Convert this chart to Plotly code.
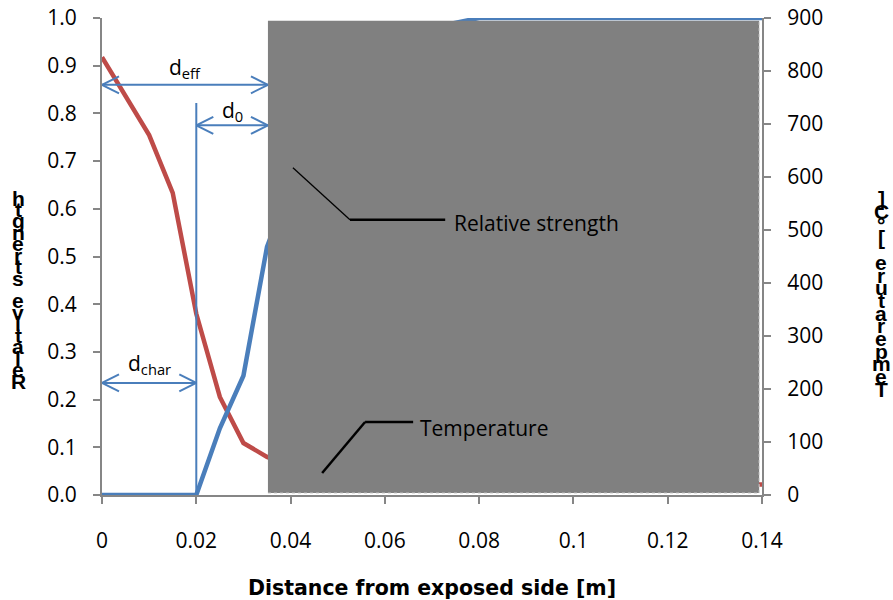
import plotly.graph_objects as go

# Section profile data
distance_m = [0, 0.005, 0.01, 0.015, 0.02, 0.025, 0.03, 0.035, 0.04, 0.05,
              0.06, 0.07, 0.08, 0.09, 0.10, 0.11, 0.12, 0.13, 0.14]
temperature_c = [826, 752, 679, 570, 342, 185, 98, 72, 55, 38,
                 28, 23, 21, 20, 20, 20, 20, 20, 20]
relative_strength = [0, 0, 0, 0, 0, 0.14, 0.25, 0.52, 0.65, 0.82,
                     0.92, 0.98, 1.0, 1.0, 1.0, 1.0, 1.0, 1.0, 1.0]

x_ticks = [0, 0.02, 0.04, 0.06, 0.08, 0.10, 0.12, 0.14]
x_tick_labels = ["0", "0.02", "0.04", "0.06", "0.08", "0.1", "0.12", "0.14"]
strength_ticks = [0, 0.1, 0.2, 0.3, 0.4, 0.5, 0.6, 0.7, 0.8, 0.9, 1.0]
strength_tick_labels = ["0.0", "0.1", "0.2", "0.3", "0.4", "0.5", "0.6", "0.7", "0.8", "0.9", "1.0"]
temp_ticks = [0, 100, 200, 300, 400, 500, 600, 700, 800, 900]
temp_tick_labels = ["0", "100", "200", "300", "400", "500", "600", "700", "800", "900"]

# Layer depths [m]
d_char = 0.02     # charring depth
d_eff = 0.0352    # effective depth (char + zero-strength layer)

BLUE = "#4a7ebb"
RED = "#be4b48"
AXIS = "#868686"
W, H = 893, 600
ML, MR, MT, MB = 102, 131, 18, 105
PW, PH = W - ML - MR, H - MT - MB

fig = go.Figure()
fig.add_trace(go.Scatter(x=distance_m, y=temperature_c, mode="lines",
                         line=dict(color=RED, width=4.5), yaxis="y",
                         name="Temperature", showlegend=False))
fig.add_trace(go.Scatter(x=distance_m, y=relative_strength, mode="lines",
                         line=dict(color=BLUE, width=4.5), yaxis="y2",
                         name="Relative strength", showlegend=False))

tick_font = dict(family="Open Sans", size=21, color="#000000")
axis_style = dict(showline=True, linecolor=AXIS, linewidth=2, ticks="outside",
                  ticklen=7, tickwidth=2, tickcolor=AXIS, showgrid=False,
                  zeroline=False, tickfont=tick_font, ticklabelstandoff=12,
                  automargin=False)

shapes = []


def seg(x0, y0, x1, y1, color=BLUE, width=2, dash=None):
    line = dict(color=color, width=width)
    if dash:
        line["dash"] = dash
    shapes.append(dict(type="line", xref="x", yref="y2", x0=x0, y0=y0, x1=x1, y1=y1,
                       line=line, layer="above"))


def chevron(x, y, direction):
    # open arrow head; direction -1 points left, +1 points right
    for dy in (-8.5, 8.5):
        shapes.append(dict(type="line", xref="x", yref="y2",
                           xsizemode="pixel", xanchor=x, x0=0, x1=-direction * 17,
                           ysizemode="pixel", yanchor=y, y0=0, y1=dy,
                           line=dict(color=BLUE, width=2), layer="above"))


# remaining effective cross-section
shapes.append(dict(type="rect", xref="x", yref="y2", x0=d_eff, x1=0.1394, y0=0.004, y1=0.994,
                   fillcolor="#808080", line=dict(width=0), layer="above"))
seg(d_eff, 0.004, 0.1394, 0.004, color="#d0d0d0", width=1, dash="dot")
seg(0.1394, 0.004, 0.1394, 0.994, color="#d0d0d0", width=1, dash="dot")

# dimension arrows
y_eff, y_0, y_char = 0.86, 0.775, 0.235
seg(0, y_eff, d_eff, y_eff)
chevron(0, y_eff, -1)
chevron(d_eff, y_eff, 1)
seg(d_char, 0, d_char, 0.822)
seg(d_char, y_0, d_eff, y_0)
chevron(d_char, y_0, -1)
chevron(d_eff, y_0, 1)
seg(0, y_char, d_char, y_char)
chevron(0, y_char, -1)
chevron(d_char, y_char, 1)

# callout leaders
seg(0.0405, 0.686, 0.0526, 0.577, color="#000000", width=1.3)
seg(0.0526, 0.577, 0.0728, 0.577, color="#000000", width=2.5)
seg(0.0467, 0.046, 0.0558, 0.153, color="#000000", width=2.5)
seg(0.0558, 0.153, 0.0660, 0.153, color="#000000", width=2.5)

label_font = dict(family="Open Sans", size=21, color="#000000")
annotations = [
    dict(x=d_eff / 2, y=0.895, xref="x", yref="y2", text="d<sub>eff</sub>",
         showarrow=False, font=label_font),
    dict(x=(d_char + d_eff) / 2, y=0.805, xref="x", yref="y2", text="d<sub>0</sub>",
         showarrow=False, font=label_font),
    dict(x=d_char / 2, y=0.275, xref="x", yref="y2", text="d<sub>char</sub>",
         showarrow=False, font=label_font),
    dict(x=0.0742, y=0.571, xref="x", yref="y2", text="Relative strength",
         showarrow=False, xanchor="left", font=label_font),
    dict(x=0.0670, y=0.141, xref="x", yref="y2", text="Temperature",
         showarrow=False, xanchor="left", font=label_font),
]

# stacked axis titles (characters upright, read bottom to top)
title_font = dict(family="Liberation Sans", size=21, color="#000000")


def stacked_title(text, px_x, top_px, bottom_px):
    chars = list(reversed(text))
    step = (bottom_px - top_px) / (len(chars) - 1)
    for i, ch in enumerate(chars):
        if ch == " ":
            continue
        py = top_px + i * step
        annotations.append(dict(x=(px_x - ML) / PW, y=(H - MB - py) / PH,
                                xref="paper", yref="paper", text=f"<b>{ch}</b>",
                                showarrow=False, font=title_font,
                                xanchor="center", yanchor="middle"))


stacked_title("Relative strength", 18, 198, 381)
stacked_title("Temperature [°C]", 881, 199, 389)

fig.update_layout(
    width=W, height=H,
    margin=dict(l=ML, r=MR, t=MT, b=MB, autoexpand=False),
    plot_bgcolor="white", paper_bgcolor="white",
    xaxis=dict(range=[0, 0.14], tickvals=x_ticks, ticktext=x_tick_labels,
               title=dict(text="<b>Distance from exposed side [m]</b>",
                          font=dict(family="DejaVu Sans", size=20.5, color="#000000"),
                          standoff=30),
               **{**axis_style, "ticklabelstandoff": 19}),
    yaxis=dict(range=[0, 900], side="right", tickvals=temp_ticks, ticktext=temp_tick_labels,
               **axis_style),
    yaxis2=dict(range=[0, 1.0], side="left", overlaying="y", anchor="x",
                tickvals=strength_ticks, ticktext=strength_tick_labels, **axis_style),
    shapes=shapes,
    annotations=annotations,
    showlegend=False,
)

fig.write_html("out.html")
